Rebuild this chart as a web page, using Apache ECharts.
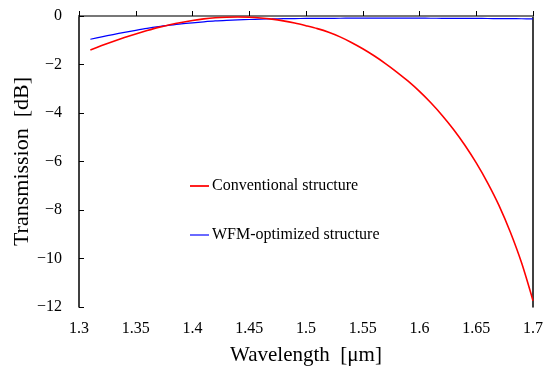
<!DOCTYPE html>
<html>
<head>
<meta charset="utf-8">
<script src="https://cdn.jsdelivr.net/npm/echarts@6/dist/echarts.min.js"></script>
<style>html,body{margin:0;padding:0;background:#fff;}#c{width:544px;height:368px;}</style>
</head>
<body>
<div id="c"></div>
<script>
const wavelengths = [1.31,1.32,1.33,1.34,1.35,1.36,1.37,1.38,1.39,1.40,1.41,1.42,1.43,1.44,1.45,1.46,1.47,1.48,1.49,1.50,1.51,1.52,1.53,1.54,1.55,1.56,1.57,1.58,1.59,1.60,1.61,1.62,1.63,1.64,1.65,1.66,1.67,1.68,1.69,1.70];
const conventional = [-1.40,-1.22,-1.05,-0.89,-0.74,-0.60,-0.47,-0.36,-0.265,-0.185,-0.12,-0.075,-0.05,-0.04,-0.05,-0.08,-0.13,-0.20,-0.29,-0.40,-0.52,-0.67,-0.86,-1.09,-1.35,-1.64,-1.96,-2.31,-2.69,-3.11,-3.58,-4.10,-4.68,-5.33,-6.06,-6.88,-7.81,-8.91,-10.19,-11.74];
const wfmOptimized = [-0.96,-0.86,-0.765,-0.675,-0.59,-0.51,-0.44,-0.38,-0.325,-0.28,-0.24,-0.205,-0.18,-0.16,-0.145,-0.13,-0.12,-0.11,-0.105,-0.10,-0.098,-0.095,-0.093,-0.09,-0.09,-0.09,-0.09,-0.09,-0.09,-0.09,-0.092,-0.094,-0.096,-0.098,-0.10,-0.103,-0.106,-0.11,-0.114,-0.12];
const seriesNames = ['Conventional structure','WFM-optimized structure'];
const xTitle = 'Wavelength  [\u03bcm]';
const yTitle = 'Transmission  [dB]';

const font = '"Liberation Serif","Times New Roman",serif';
const pair = (xs, ys) => xs.map((x, i) => [x, ys[i]]);
const chart = echarts.init(document.getElementById('c'), null, {renderer: 'canvas'});
chart.setOption({
  animation: false,
  backgroundColor: '#fff',
  grid: {left: 79, right: 11, top: 16, bottom: 61, outerBoundsMode: 'none', containLabel: false},
  legend: {
    orient: 'vertical', left: 185, top: 173, itemGap: 33,
    icon: 'rect', itemWidth: 19, itemHeight: 2,
    textStyle: {fontFamily: font, fontSize: 16, color: '#000', padding: [0,0,0,-2]},
    data: [
      {name: seriesNames[0], itemStyle: {color: '#ff2020'}},
      {name: seriesNames[1], itemStyle: {color: '#6a6aff'}}
    ]
  },
  xAxis: [{
    type: 'value', min: 1.3, max: 1.7, interval: 0.05,
    name: xTitle, nameLocation: 'middle', nameGap: 38, nameMoveOverlap: false,
    nameTextStyle: {fontFamily: font, fontSize: 21, color: '#000'},
    axisLine: {lineStyle: {color: '#000', width: 1.5}},
    axisTick: {inside: true, length: 5, lineStyle: {color: '#000'}},
    axisLabel: {fontFamily: font, fontSize: 16, color: '#000', margin: 14, formatter: v => String(+v.toFixed(2))},
    splitLine: {show: false}
  }, {
    type: 'value', min: 1.3, max: 1.7, position: 'top',
    axisLine: {show: true, lineStyle: {color: '#777', width: 2}},
    axisTick: {show: false}, axisLabel: {show: false}, splitLine: {show: false}
  }],
  yAxis: [{
    type: 'value', min: -12, max: 0, interval: 2,
    name: yTitle, nameLocation: 'middle', nameGap: 46, nameRotate: 90, nameMoveOverlap: false,
    nameTextStyle: {fontFamily: font, fontSize: 22, color: '#000'},
    axisLine: {show: true, lineStyle: {color: '#000', width: 1.5}},
    axisTick: {inside: true, length: 5, lineStyle: {color: '#000'}},
    axisLabel: {fontFamily: font, fontSize: 16, color: '#000', margin: 17, padding: [4,0,0,0], formatter: v => String(v).replace('-', '\u2212')},
    splitLine: {show: false}
  }, {
    type: 'value', min: -12, max: 0, position: 'right',
    axisLine: {show: true, lineStyle: {color: '#000', width: 1.5}},
    axisTick: {show: false}, axisLabel: {show: false}, splitLine: {show: false}
  }],
  series: [{
    name: seriesNames[0], type: 'line', data: pair(wavelengths, conventional),
    smooth: 0.3, showSymbol: false, z: 3,
    lineStyle: {color: '#ff0000', width: 1.6}, itemStyle: {color: '#ff0000'}
  }, {
    name: seriesNames[1], type: 'line', data: pair(wavelengths, wfmOptimized),
    smooth: 0.3, showSymbol: false, z: 2,
    lineStyle: {color: '#0000ff', width: 1.2}, itemStyle: {color: '#0000ff'}
  }]
});
</script>
</body>
</html>
